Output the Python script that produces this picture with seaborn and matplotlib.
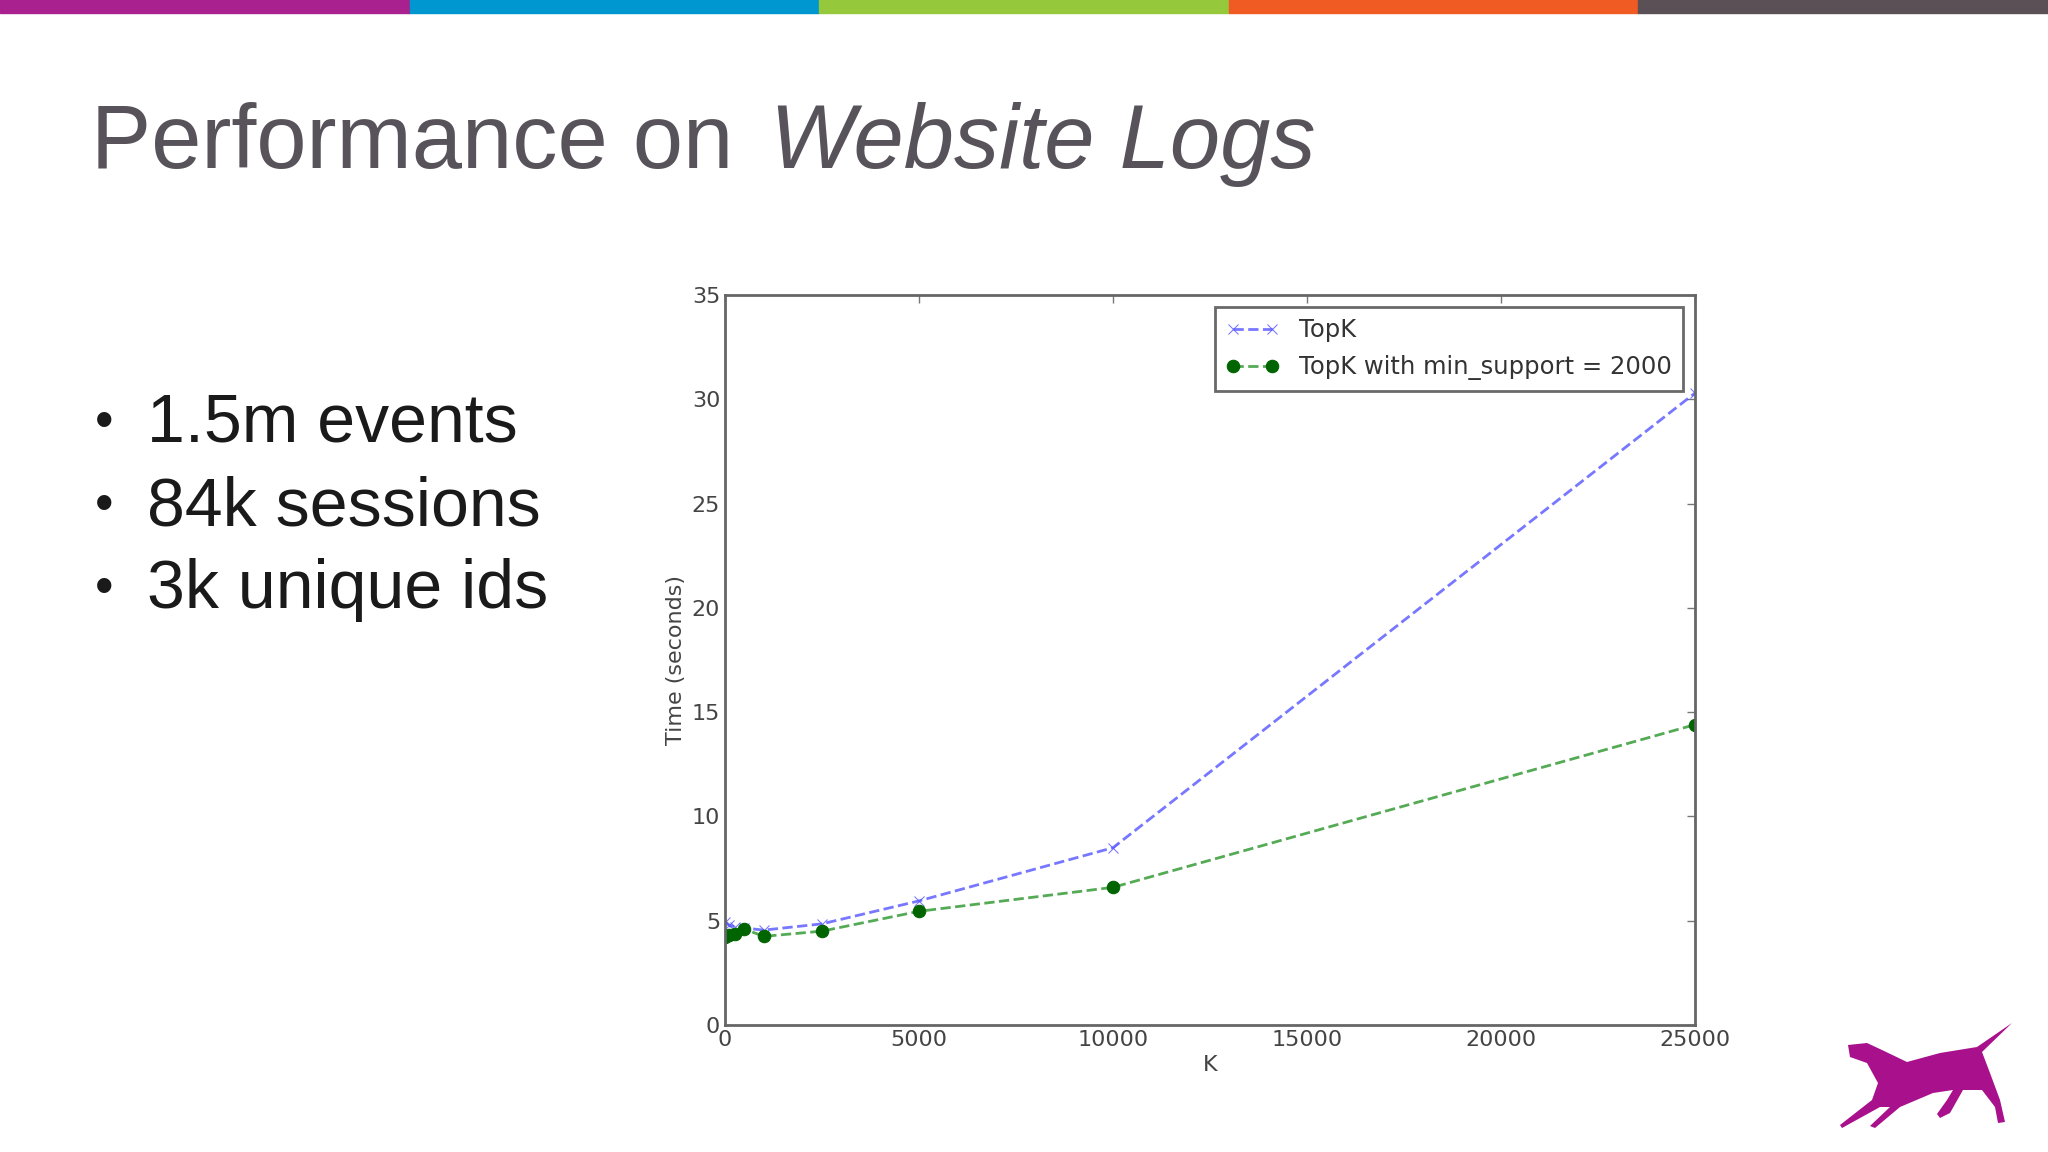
import numpy as np
import pandas as pd
import matplotlib
matplotlib.use("Agg")
import matplotlib.pyplot as plt
import seaborn as sns
from matplotlib.patches import Polygon, Rectangle

# Data
k_values = [10, 100, 250, 500, 1000, 2500, 5000, 10000, 25000]
topk_time = [4.95, 4.8, 4.7, 4.65, 4.55, 4.85, 5.95, 8.5, 30.3]
topk_minsup_time = [4.2, 4.3, 4.35, 4.6, 4.25, 4.5, 5.45, 6.6, 14.4]

bullets = ["1.5m events", "84k sessions", "3k unique ids"]
bar_colors = ["#A8218E", "#0096D0", "#96C83C", "#F05A23", "#5A5055"]

df = pd.DataFrame({"K": k_values, "TopK": topk_time, "MinSup": topk_minsup_time})

sns.set_style("white")
plt.rcParams["font.family"] = ["DejaVu Sans"]

fig = plt.figure(figsize=(20.48, 11.52), dpi=100)

# colored strip on top
for i, c in enumerate(bar_colors):
    fig.patches.append(Rectangle((i / 5, 1 - 13 / 1152), 1 / 5, 13 / 1152,
                                 transform=fig.transFigure, color=c, zorder=5))

# title
fig.text(91 / 2048, 1 - 168 / 1152, "Performance on", fontsize=65, color="#58535A",
         family="Liberation Sans", ha="left", va="baseline")
fig.text(770 / 2048, 1 - 168 / 1152, "Website Logs", fontsize=65, color="#58535A",
         family="Liberation Sans", style="italic", ha="left", va="baseline")

# bullets
for i, b in enumerate(bullets):
    y = 1 - (442 + i * 83) / 1152
    fig.text(95 / 2048, y + 4 / 1152, "\u2022", fontsize=38, color="#1A1A1A",
             family="Liberation Sans", ha="left", va="baseline")
    fig.text(147 / 2048, y, b, fontsize=49, color="#1A1A1A",
             family="Liberation Sans", ha="left", va="baseline")

# chart
ax = fig.add_axes([725 / 2048, 1 - 1025 / 1152, 970 / 2048, 730 / 1152])
sns.lineplot(data=df, x="K", y="TopK", ax=ax, color="#5555FF", linestyle="--",
             linewidth=2, marker="x", markersize=7, markeredgecolor="#5555FF",
             alpha=0.8, label="TopK")
sns.lineplot(data=df, x="K", y="MinSup", ax=ax, color="#55AA55", linestyle="--",
             linewidth=2, marker="o", markersize=9, markerfacecolor="#006400",
             markeredgecolor="#006400", label="TopK with min_support = 2000")

ax.set_xlim(0, 25000)
ax.set_ylim(0, 35)
ax.set_xticks([0, 5000, 10000, 15000, 20000, 25000])
ax.set_yticks(range(0, 36, 5))
ax.tick_params(direction="in", top=True, right=True, length=6, width=1,
               colors="#777777", labelsize=16, labelcolor="#444444")
ax.set_xlabel("K", fontsize=16, color="#444444")
ax.set_ylabel("Time (seconds)", fontsize=16, color="#444444")
for s in ax.spines.values():
    s.set_color("#666666")
    s.set_linewidth(2)

leg = ax.legend(loc="upper right", fontsize=17.5, fancybox=False, frameon=True,
                numpoints=2, handlelength=2.2, borderpad=0.45, labelspacing=0.55,
                borderaxespad=0.5)
leg.get_frame().set_edgecolor("#444444")
leg.get_frame().set_linewidth(2)
for t in leg.get_texts():
    t.set_color("#333333")

# dog logo (rough silhouette)
dog = [(1848, 1045), (1867, 1043), (1882, 1050), (1907, 1062), (1940, 1053),
       (1977, 1047), (2012, 1023), (1982, 1052), (1990, 1073), (2000, 1100),
       (2005, 1122), (1998, 1123), (1995, 1107), (1982, 1090), (1963, 1090),
       (1950, 1113), (1940, 1118), (1937, 1114), (1947, 1100), (1953, 1090),
       (1933, 1093), (1900, 1107), (1875, 1128), (1870, 1126), (1890, 1107),
       (1880, 1107), (1842, 1128), (1840, 1125), (1872, 1100), (1878, 1083),
       (1867, 1063), (1850, 1057)]
dog_fig = [(x / 2048, 1 - y / 1152) for x, y in dog]
fig.patches.append(Polygon(dog_fig, closed=True, transform=fig.transFigure,
                           facecolor="#A8108C", edgecolor="none"))

fig.savefig("out.png", dpi=100, facecolor="white")
